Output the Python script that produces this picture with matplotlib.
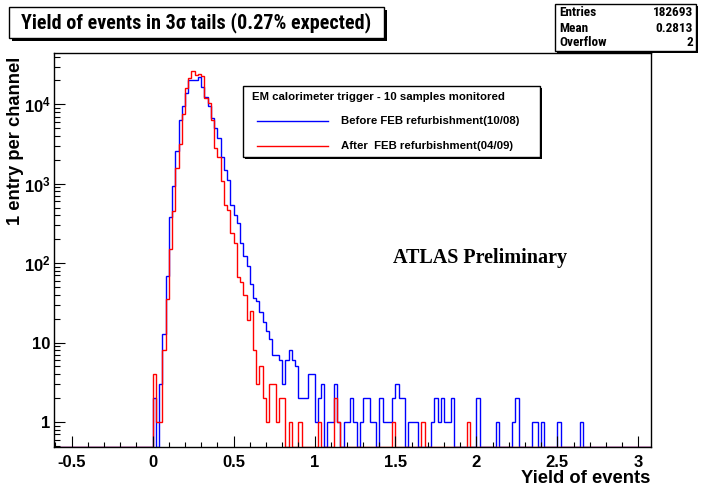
import numpy as np
import matplotlib
matplotlib.use("Agg")
import matplotlib.pyplot as plt
from matplotlib.patches import Rectangle
from matplotlib.lines import Line2D
from matplotlib.ticker import FixedLocator, MultipleLocator, LogLocator, NullFormatter
from matplotlib import font_manager
from matplotlib.font_manager import FontProperties

# ---------------- data ----------------
bin_width = 0.02
x_low, x_high = -0.62, 3.08
first_bin_low = 0.0          # lower edge of the first listed bin

# Before FEB refurbishment (10/08) - blue
before = [2, 0, 3, 13, 68, 385, 935, 2590, 6300, 9500,
          13800, 20300, 20300, 20500, 22300, 16600, 12500, 9500, 6800, 5000,
          3740, 2190, 1490, 1120, 540, 405, 318, 178, 124, 92,
          55, 36, 33, 24, 18, 14, 11, 7, 7, 6,
          3, 6, 8, 6, 5, 2, 2, 2, 4, 4,
          1, 2, 3, 0, 1, 1, 3, 1, 0, 1,
          1, 2, 1, 0, 1, 2, 2, 1, 1, 0,
          2, 1, 1, 1, 2, 3, 2, 2, 0, 1,
          1, 1, 0, 0, 0, 0, 1, 2, 1, 2,
          1, 1, 2, 0, 0, 0, 0, 0, 0, 0,
          2, 0, 0, 0, 0, 0, 1, 0, 0, 0,
          0, 1, 2, 0, 0, 0, 0, 1, 1, 0,
          1, 0, 0, 0, 0, 1, 0, 0, 0, 0,
          0, 0, 1]

# After FEB refurbishment (04/09) - red
after = [4, 1, 1, 8, 35, 150, 450, 1570, 3140, 7500,
         15900, 21300, 26000, 23500, 24500, 22500, 12000, 10500, 6300, 2800,
         2200, 1100, 540, 470, 238, 181, 67, 58, 40, 19,
         25, 8, 3, 5, 2, 1, 3, 3, 1, 2,
         2, 0, 1, 0, 0, 1, 0, 0, 0, 0,
         0, 1, 0, 0, 0, 0, 2, 1, 0, 0,
         0, 0, 0, 0, 0, 0, 0, 0, 0, 0,
         0, 0, 0, 0, 1, 0, 0, 0, 0, 0,
         0, 0, 0, 1, 0, 0, 0, 0, 0, 0,
         0, 0, 0, 0, 0, 0, 0, 1]

x_ticks = [-0.5, 0, 0.5, 1, 1.5, 2, 2.5, 3]
x_tick_labels = ["-0.5", "0", "0.5", "1", "1.5", "2", "2.5", "3"]
y_ticks = [1, 10, 100, 1000, 10000]
y_tick_labels = ["1", "10", r"$\mathbf{10^{2}}$", r"$\mathbf{10^{3}}$", r"$\mathbf{10^{4}}$"]

title_text = "Yield of events in 3\u03c3 tails (0.27% expected)"
stats_names = ["Entries", "Mean", "Overflow"]
stats_values = ["182693", "0.2813", "2"]
legend_header = "EM calorimeter trigger - 10 samples monitored"
legend_labels = ["Before FEB refurbishment(10/08)", "After  FEB refurbishment(04/09)"]
series_colors = ["#0000ff", "#ff0000"]

# ---------------- style ----------------
W, H = 702, 490
ttf = font_manager.fontManager.ttflist
avail = {f.name for f in ttf}
SANS = "Liberation Sans" if "Liberation Sans" in avail else "DejaVu Sans"
SERIF = "Liberation Serif" if "Liberation Serif" in avail else "DejaVu Serif"


def pick_narrow_bold():
    prefs = ["Liberation Sans Narrow", "Roboto Condensed", "Open Sans Condensed",
             "Noto Sans Condensed", "Noto Sans ExtraCondensed", "Noto Sans SemiCondensed"]
    for p in prefs:
        for f in ttf:
            if f.name == p and (f.weight in ("bold", 700, "700") or "Bold" in f.fname):
                return FontProperties(fname=f.fname)
    for f in ttf:
        if f.name in ("Noto Sans", "Roboto", "Open Sans") and f.stretch in (
                "condensed", "extra-condensed", "semi-condensed") and "Bold" in f.fname:
            return FontProperties(fname=f.fname)
    return FontProperties(family=SANS, weight="bold")


NARROW_FP = pick_narrow_bold()

plt.rcParams["font.family"] = [SANS, "DejaVu Sans"]
plt.rcParams["mathtext.fontset"] = "custom"
plt.rcParams["mathtext.rm"] = SANS
plt.rcParams["mathtext.bf"] = SANS + ":bold"
plt.rcParams["mathtext.it"] = SANS + ":italic"


def fx(px):
    return px / W


def fy(py):
    return 1 - py / H


fig = plt.figure(figsize=(W / 100, H / 100), dpi=100)
ax_l, ax_r, ax_t, ax_b = 53.5, 651, 53, 447
ax = fig.add_axes([fx(ax_l), fy(ax_b), (ax_r - ax_l) / W, (ax_b - ax_t) / H])

ymin, ymax = 0.484, 44400
n_bins = int(round((x_high - x_low) / bin_width))
edges = x_low + bin_width * np.arange(n_bins + 1)
offset = int(round((first_bin_low - x_low) / bin_width))

for series, col in zip([before, after], series_colors):
    full = np.zeros(n_bins)
    full[offset:offset + len(series)] = series
    disp = np.where(full > 0, full, ymin)
    ax.stairs(disp, edges, baseline=None, color=col, lw=1.0)

ax.set_yscale("log")
ax.set_xlim(-0.612, 3.078)
ax.set_ylim(ymin, ymax)

ax.xaxis.set_major_locator(FixedLocator(x_ticks))
ax.set_xticklabels(x_tick_labels)
ax.xaxis.set_minor_locator(MultipleLocator(0.1))
ax.yaxis.set_major_locator(FixedLocator(y_ticks))
ax.set_yticklabels(y_tick_labels)
ax.yaxis.set_minor_locator(LogLocator(base=10, subs=np.arange(2, 10), numticks=20))
ax.yaxis.set_minor_formatter(NullFormatter())

ax.tick_params(axis="x", which="major", direction="in", length=8, width=0.8,
               pad=6, labelsize=12, top=False)
ax.tick_params(axis="x", which="minor", direction="in", length=3.6, width=0.8, top=False)
ax.tick_params(axis="y", which="major", direction="in", length=8, width=0.8,
               pad=2, labelsize=12, right=False)
ax.tick_params(axis="y", which="minor", direction="in", length=4, width=0.8, right=False)
for lab in ax.get_xticklabels() + ax.get_yticklabels():
    lab.set_fontweight("bold")
for s in ax.spines.values():
    s.set_linewidth(1.0)
    s.set_color("black")

# axis titles
fig.text(fx(650), fy(478), "Yield of events", ha="right", va="center",
         fontsize=13.2, fontweight="bold")
fig.text(fx(16), fy(57), "1 entry per channel", ha="center", va="top",
         rotation=90, fontsize=13.2, fontweight="bold")


# boxes with shadows
def shadow_box(x0, y0, x1, y1, sh=3, lw=1.0):
    fig.patches.append(Rectangle((fx(x0 + sh), fy(y1 + sh)), (x1 - x0) / W, (y1 - y0) / H,
                                 transform=fig.transFigure, facecolor="black",
                                 edgecolor="black", lw=0, zorder=5))
    fig.patches.append(Rectangle((fx(x0), fy(y1)), (x1 - x0) / W, (y1 - y0) / H,
                                 transform=fig.transFigure, facecolor="white",
                                 edgecolor="black", lw=lw, zorder=6))


# title
shadow_box(9, 7, 384, 38, sh=3)
t = fig.text(fx(196), fy(23), title_text, ha="center", va="center",
             fontproperties=NARROW_FP, zorder=10)
t.set_fontsize(16)
fig.canvas.draw()
r = fig.canvas.get_renderer()
w = t.get_window_extent(r).width
t.set_fontsize(min(16 * 349.0 / w, 17.5))

# stats box
shadow_box(555, 4, 696, 51, sh=2)
for i, (nm, vl) in enumerate(zip(stats_names, stats_values)):
    yy = 13 + 15 * i
    a = fig.text(fx(559), fy(yy), nm, ha="left", va="center",
                 fontproperties=NARROW_FP, zorder=10)
    b = fig.text(fx(693), fy(yy), vl, ha="right", va="center",
                 fontproperties=NARROW_FP, zorder=10)
    a.set_fontsize(9.5)
    b.set_fontsize(9.5)

# legend
shadow_box(243, 86, 540, 157, sh=2)
fig.text(fx(252), fy(97), legend_header, ha="left", va="center", fontsize=8.2,
         fontweight="bold", zorder=10)
for i, (lab, col) in enumerate(zip(legend_labels, series_colors)):
    yy = 121 + 25 * i
    fig.lines.append(Line2D([fx(257), fx(328)], [fy(yy), fy(yy)], color=col, lw=1.0,
                            transform=fig.transFigure, zorder=10))
    fig.text(fx(341), fy(yy), lab, ha="left", va="center", fontsize=8.2,
             fontweight="bold", zorder=10)

# ATLAS label
fig.text(fx(393), fy(258), "ATLAS Preliminary", ha="left", va="center",
         fontsize=14.5, fontweight="bold", family=[SERIF, "DejaVu Serif"])

fig.savefig("out.png", dpi=100)
